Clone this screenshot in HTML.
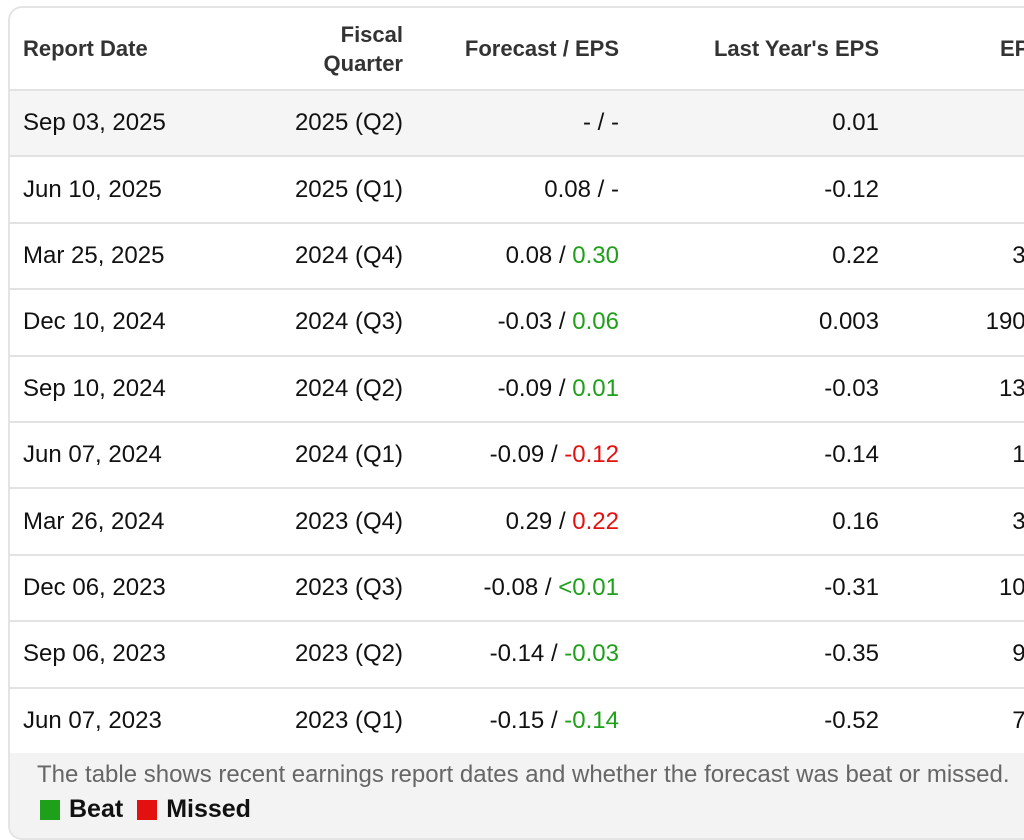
<!DOCTYPE html>
<html><head><meta charset="utf-8"><style>
html,body{margin:0;width:1024px;height:827px;overflow:hidden;background:#fff;font-family:"Liberation Sans",sans-serif;}
#card{position:absolute;left:8px;top:6px;width:1016px;height:830px;border:2px solid #e4e4e4;border-right:none;border-radius:14px 0 0 14px;overflow:hidden;background:#fff;}
.row{position:absolute;left:0;width:1016px;border-bottom:2px solid #e2e2e2;box-sizing:border-box;}
.c{position:absolute;top:0;height:100%;display:flex;align-items:center;font-size:24px;color:#111;white-space:nowrap;}
.h{font-weight:bold;font-size:22px;color:#333;line-height:29px;}
.g{color:#1fa01a}.r{color:#e31010}
#foot{position:absolute;left:0;top:745px;width:1016px;height:90px;background:#f3f3f3;}
</style></head><body>
<div id="card">
 <div class="row" style="top:0;height:83px">
  <div class="c h" style="left:13px">Report Date</div>
  <div class="c h" style="right:623px;text-align:right;justify-content:flex-end">Fiscal<br>Quarter</div>
  <div class="c h" style="right:407px;justify-content:flex-end">Forecast / EPS</div>
  <div class="c h" style="right:147px;justify-content:flex-end">Last Year's EPS</div>
  <div class="c h" style="left:990px">EPS YoY</div>
 </div>
 <div id="rows"></div>
 <div id="foot">
  <div style="position:absolute;left:27px;top:8px;font-size:24px;color:#666;white-space:nowrap">The table shows recent earnings report dates and whether the forecast was beat or missed.</div>
  <div style="position:absolute;left:30px;top:42px;font-size:25px;font-weight:bold;color:#111;display:flex;align-items:center">
   <span style="display:inline-block;width:20px;height:20px;background:#1fa01a;margin-right:9px"></span><span>Beat</span>
   <span style="display:inline-block;width:20px;height:20px;background:#e31010;margin:0 9px 0 14px"></span><span>Missed</span>
  </div>
 </div>
</div>
<script>
const dates=["Sep 03, 2025","Jun 10, 2025","Mar 25, 2025","Dec 10, 2024","Sep 10, 2024","Jun 07, 2024","Mar 26, 2024","Dec 06, 2023","Sep 06, 2023","Jun 07, 2023"];
const quarters=["2025 (Q2)","2025 (Q1)","2024 (Q4)","2024 (Q3)","2024 (Q2)","2024 (Q1)","2023 (Q4)","2023 (Q3)","2023 (Q2)","2023 (Q1)"];
const forecasts=["-","0.08","0.08","-0.03","-0.09","-0.09","0.29","-0.08","-0.14","-0.15"];
const actuals=["-","-","0.30","0.06","0.01","-0.12","0.22","<0.01","-0.03","-0.14"];
const results=["","","g","g","g","r","r","g","g","g"];
const lastYear=["0.01","-0.12","0.22","0.003","-0.03","-0.14","0.16","-0.31","-0.35","-0.52"];
const growth=["","","3.0%","190.0%","13.0%","1.0%","3.0%","10.0%","9.0%","7.0%"];
const rows=document.getElementById('rows');
const H=66.4;
dates.forEach((d,i)=>{
 const r=document.createElement('div');
 r.className='row';
 
 
 r.style.top=(83+i*H)+'px';r.style.height=H+'px';
 if(i===0)r.style.background='#f5f5f5';
 const act=results[i]?`<span class="${results[i]}">${actuals[i].replace('<','&lt;')}</span>`:actuals[i];
 r.innerHTML=`<div class="c" style="left:13px">${d}</div>
 <div class="c" style="right:623px">${quarters[i]}</div>
 <div class="c" style="right:407px">${forecasts[i]}&nbsp;/&nbsp;${act}</div>
 <div class="c" style="right:147px">${lastYear[i]}</div>
 <div class="c" style="right:-41px">${growth[i]}</div>`;
 rows.appendChild(r);
});
</script>
</body></html>
